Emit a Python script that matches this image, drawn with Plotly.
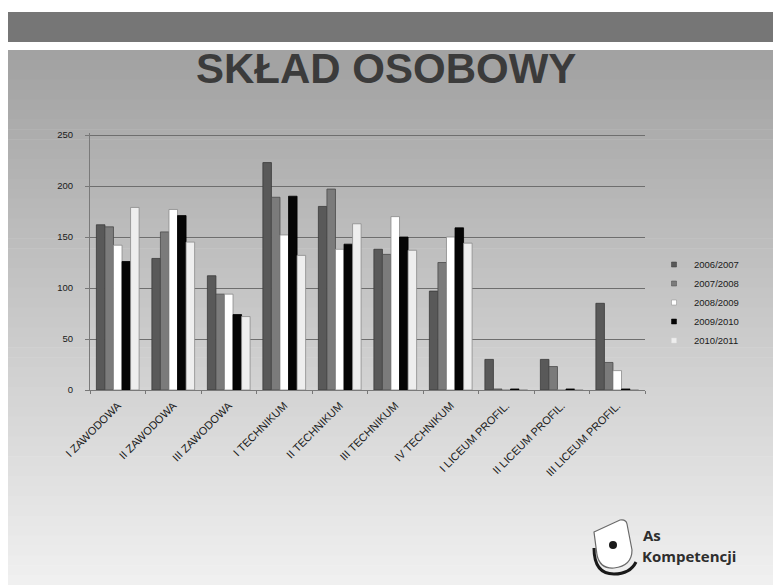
import plotly.graph_objects as go

categories = ["I ZAWODOWA", "II ZAWODOWA", "III ZAWODOWA", "I TECHNIKUM", "II TECHNIKUM",
              "III TECHNIKUM", "IV TECHNIKUM", "I LICEUM PROFIL.", "II LICEUM PROFIL.", "III LICEUM PROFIL."]
series_names = ["2006/2007", "2007/2008", "2008/2009", "2009/2010", "2010/2011"]
v2006 = [162, 129, 112, 223, 180, 138, 97, 30, 30, 85]
v2007 = [160, 155, 94, 189, 197, 133, 125, 1, 23, 27]
v2008 = [142, 177, 94, 152, 138, 170, 150, 0, 0, 19]
v2009 = [126, 171, 74, 190, 143, 150, 159, 1, 1, 1]
v2010 = [179, 145, 72, 132, 163, 137, 144, 0, 0, 0]
y_ticks = [0, 50, 100, 150, 200, 250]

series_values = [v2006, v2007, v2008, v2009, v2010]
fills = ["#595959", "#7b7b7b", "#ffffff", "#050505", "#eeeeee"]
lines = ["#3a3a3a", "#4a4a4a", "#8a8a8a", "#000000", "#8c8c8c"]

W, H = 773, 585
L, R, T, B = 90, 128, 133, 195
PW, PH = W - L - R, H - T - B


def px(x):
    return (x - L) / PW


def py(y):
    return (H - B - y) / PH


fig = go.Figure()
for name, vals, fc, lc in zip(series_names, series_values, fills, lines):
    fig.add_trace(go.Bar(x=categories, y=vals, name=name, legendgroup=name, showlegend=False,
                         marker=dict(color=fc, line=dict(color=lc, width=0.8))))
    fig.add_trace(go.Scatter(x=[None], y=[None], mode="markers", name=name, legendgroup=name,
                             marker=dict(symbol="square", size=5, color=fc,
                                         line=dict(color=lc if fc != "#eeeeee" else "#dddddd", width=0.5))))

shapes = []
# background gradient
top, bot = 50, 585
n = 54
for i in range(n):
    y0 = top + (bot - top) * i / n
    y1 = top + (bot - top) * (i + 1) / n + 0.6
    t = i / (n - 1)
    c = int(162 + (240 - 162) * t)
    shapes.append(dict(type="rect", xref="paper", yref="paper", layer="below",
                       x0=px(8), x1=px(W), y0=py(y0), y1=py(y1),
                       fillcolor=f"rgb({c},{c},{c})", line=dict(width=0)))
# dark header band
shapes.append(dict(type="rect", xref="paper", yref="paper", layer="below",
                   x0=px(8), x1=px(W), y0=py(12), y1=py(42),
                   fillcolor="#767676", line=dict(width=0)))

# logo icon
card = f"M {px(594)},{py(532)} L {px(620)},{py(520)} Q {px(626)},{py(519)} {px(627)},{py(524)} " \
       f"L {px(632)},{py(550)} Q {px(632)},{py(566)} {px(614)},{py(568)} Q {px(600)},{py(569)} {px(597)},{py(555)} Z"
shapes.append(dict(type="path", xref="paper", yref="paper", path=card, fillcolor="#ffffff",
                   line=dict(color="#6a6a6a", width=1.2)))
arc = f"M {px(594)},{py(548)} Q {px(594)},{py(574)} {px(614)},{py(574)} Q {px(630)},{py(574)} {px(636)},{py(562)}"
shapes.append(dict(type="path", xref="paper", yref="paper", path=arc,
                   line=dict(color="#1a1a1a", width=3)))
shapes.append(dict(type="circle", xref="paper", yref="paper", x0=px(609), x1=px(617), y0=py(541), y1=py(549),
                   fillcolor="#1a1a1a", line=dict(width=0)))

annotations = [
    dict(text="<b>SKŁAD OSOBOWY</b>", xref="paper", yref="paper", x=px(386), y=py(68),
         xanchor="center", yanchor="middle", showarrow=False,
         font=dict(family="Liberation Sans, Arial", size=42, color="#3b3b3b")),
    dict(text="<b>As</b>", xref="paper", yref="paper", x=px(641), y=py(535),
         xanchor="left", yanchor="middle", showarrow=False,
         font=dict(family="Open Sans", size=15, color="#2e2e2e")),
    dict(text="<b>Kompetencji</b>", xref="paper", yref="paper", x=px(640), y=py(556),
         xanchor="left", yanchor="middle", showarrow=False,
         font=dict(family="Open Sans", size=15, color="#2e2e2e")),
]

fig.update_layout(
    width=W, height=H,
    margin=dict(l=L, r=R, t=T, b=B, pad=0),
    paper_bgcolor="#ffffff", plot_bgcolor="rgba(0,0,0,0)",
    barmode="group", bargap=0.23, bargroupgap=0,
    shapes=shapes, annotations=annotations,
    legend=dict(x=px(654), y=py(250), xanchor="left", yanchor="top",
                bgcolor="rgba(0,0,0,0)", font=dict(family="Liberation Sans, Arial", size=9.5, color="#1a1a1a"),
                itemwidth=30, tracegroupgap=0),
    showlegend=True,
    font=dict(family="Liberation Sans, Arial"),
)
fig.update_xaxes(type="category", tickangle=-45, tickson="boundaries", ticks="outside", ticklen=3,
                 tickcolor="#777", showline=True, linecolor="#7a7a7a", linewidth=1,
                 tickfont=dict(size=11, color="#1a1a1a"), showgrid=False, ticklabelstandoff=4)
fig.update_yaxes(range=[0, 252], tickvals=y_ticks, ticks="outside", ticklen=4, tickcolor="#777",
                 showline=True, linecolor="#7a7a7a", linewidth=1, showgrid=True,
                 gridcolor="#6e6e6e", gridwidth=1, zeroline=False,
                 tickfont=dict(size=9.5, color="#1a1a1a"), ticklabelstandoff=10)

fig.write_html("out.html")
